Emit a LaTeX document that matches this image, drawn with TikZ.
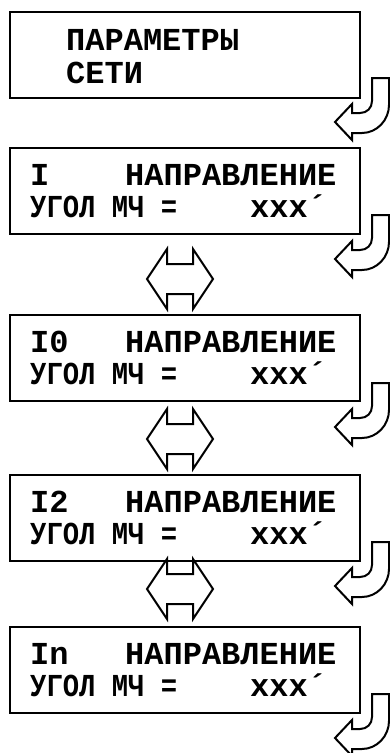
\documentclass[tikz,border=0pt]{standalone}
\usepackage{fontspec}
\usepackage{graphicx}
\newfontfamily\lcdfont{Liberation Mono}
\begin{document}
\begin{tikzpicture}[x=1pt,y=-1pt,
  panel/.style={draw, line width=2pt, anchor=north west, minimum width=350pt, minimum height=86pt, inner sep=0pt},
  txt/.style={anchor=base west, inner sep=0pt, font=\lcdfont\bfseries\fontsize{32}{32}\selectfont},
  ashape/.style={draw, line width=2pt, line join=miter},
  uturn/.pic={\draw[ashape] (372,0) -- (389,0) -- (389,27) .. controls (389,42) and (377,55) .. (362,55) -- (352,55) -- (352,62) -- (335,44) -- (352,26) -- (352,35) -- (360,35) .. controls (367,35) and (372,30) .. (372,23) -- cycle;},
  dblarrow/.pic={\draw[ashape] (-33,0) -- (-13,-30) -- (-13,-15) -- (13,-15) -- (13,-30) -- (33,0) -- (13,30) -- (13,15) -- (-13,15) -- (-13,30) -- cycle;}]
\useasboundingbox[fill=white] (0,0) rectangle (390,753);
% boxes
\node[panel] (b1) at (9,11) {};
\node[panel] (b2) at (9,147) {};
\node[panel] (b3) at (9,314) {};
\node[panel] (b4) at (9,474) {};
\node[panel] (b5) at (9,626) {};
% box 1 text
\node[txt] (p1) at (66,50) {ПАРАМЕТРЫ};
\node[txt] (p2) at (66,83) {СЕТИ};
% boxes 2-5 text
\foreach \top/\lab [count=\i] in {147/I,314/I0,474/I2,626/In}{
  \node[txt] (l\i) at (30,\top+38) {\lab};
  \node[txt] (n\i) at (125,\top+38) {НАПРАВЛЕНИЕ};
  \node[txt] (u\i) at (30,\top+70) {\scalebox{0.85}[1]{УГОЛ МЧ =}};
  \node[txt] (x\i) at (250,\top+70) {xxx´};
}
% U-turn arrows
\pic at (0,78) {uturn};
\pic at (0,215) {uturn};
\pic at (0,383) {uturn};
\pic at (0,542) {uturn};
\pic at (0,694) {uturn};
% double arrows
\pic at (180,279) {dblarrow};
\pic at (180,439) {dblarrow};
\pic at (180,589) {dblarrow};
\end{tikzpicture}
\end{document}
